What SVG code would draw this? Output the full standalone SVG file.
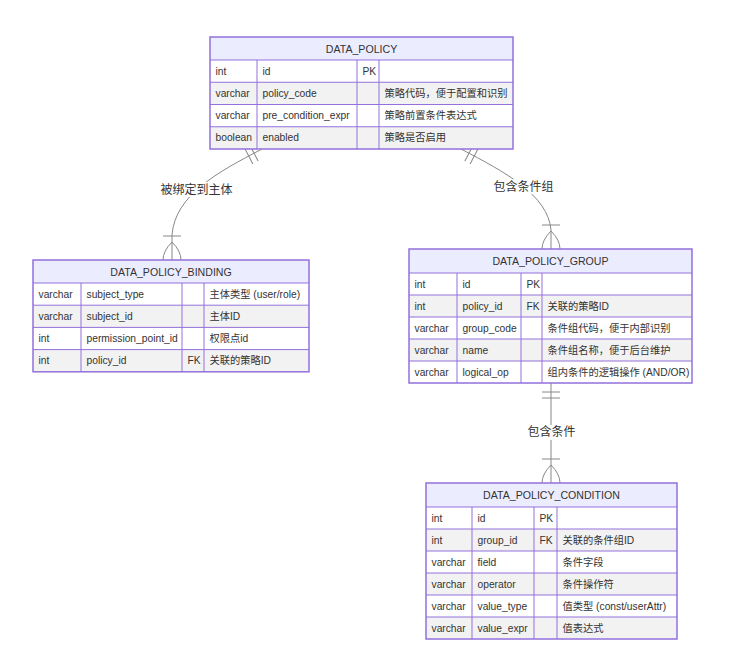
<svg xmlns="http://www.w3.org/2000/svg" width="737" height="648" viewBox="0 0 737 648">
<style>
text{font-family:"Liberation Sans","Noto Sans CJK SC",sans-serif;fill:#333;dominant-baseline:central}
.t{font-size:10.6px;text-anchor:middle}
.r{font-size:10.25px}
.lb{font-size:12px;text-anchor:middle}
.hd{fill:#ECECFF}
.od{fill:#ffffff}
.ev{fill:#f2f2f2}
.ln{stroke:#9370DB;stroke-width:1;fill:none}
.bx{stroke:#9370DB;stroke-width:1.5;fill:none}
.cn{stroke:#888;stroke-width:1;fill:none}
.lbg{fill:#ffffff;opacity:0.9}
</style>
<defs>
<marker id="oneStart" markerUnits="userSpaceOnUse" markerWidth="18" markerHeight="18" refX="0" refY="9" orient="auto"><path d="M9,0 L9,18 M15,0 L15,18" fill="none" stroke="#888"/></marker>
<marker id="manyEnd" markerUnits="userSpaceOnUse" markerWidth="45" markerHeight="36" refX="27" refY="18" orient="auto"><path d="M3,9 L3,27 M9,18 Q27,0 45,18 Q27,36 9,18" fill="none" stroke="#888"/></marker>
</defs>
<g id="connectors">
<path class="cn" d="M262,149 C218,172 175,195 172,235 L172,260" marker-start="url(#oneStart)" marker-end="url(#manyEnd)"/>
<path class="cn" d="M461,149 C505,172 548,195 551,230 L551,249" marker-start="url(#oneStart)" marker-end="url(#manyEnd)"/>
<path class="cn" d="M551,383 L551,483" marker-start="url(#oneStart)" marker-end="url(#manyEnd)"/>
<rect class="lbg" x="160" y="182" width="73" height="15"/>
<text class="lb" x="196.5" y="189.5">被绑定到主体</text>
<rect class="lbg" x="493" y="179" width="61" height="15"/>
<text class="lb" x="523.5" y="186.5">包含条件组</text>
<rect class="lbg" x="527" y="425" width="49" height="15"/>
<text class="lb" x="551.5" y="432">包含条件</text>
</g>
<g id="DATA_POLICY">
<rect class="hd" x="210" y="37" width="303" height="23"/>
<rect class="od" x="210" y="60" width="303" height="22.25"/>
<rect class="ev" x="210" y="82.25" width="303" height="22.25"/>
<rect class="od" x="210" y="104.5" width="303" height="22.25"/>
<rect class="ev" x="210" y="126.75" width="303" height="22.25"/>
<path class="ln" d="M210,60H513M210,82.25H513M210,104.5H513M210,126.75H513M257,60V149M357,60V149M379,60V149"/>
<rect class="bx" x="210" y="37" width="303" height="112"/>
<text class="t" x="361.5" y="48.5">DATA_POLICY</text>
<text class="r" x="215.5" y="71.1">int</text><text class="r" x="262.5" y="71.1">id</text><text class="r" x="362.5" y="71.1">PK</text>
<text class="r" x="215.5" y="93.4">varchar</text><text class="r" x="262.5" y="93.4">policy_code</text><text class="r" x="384.5" y="93.4">策略代码，便于配置和识别</text>
<text class="r" x="215.5" y="115.6">varchar</text><text class="r" x="262.5" y="115.6">pre_condition_expr</text><text class="r" x="384.5" y="115.6">策略前置条件表达式</text>
<text class="r" x="215.5" y="137.9">boolean</text><text class="r" x="262.5" y="137.9">enabled</text><text class="r" x="384.5" y="137.9">策略是否启用</text>
</g>
<g id="DATA_POLICY_BINDING">
<rect class="hd" x="33" y="260" width="276" height="23"/>
<rect class="od" x="33" y="283" width="276" height="22.2"/>
<rect class="ev" x="33" y="305.2" width="276" height="22.2"/>
<rect class="od" x="33" y="327.4" width="276" height="22.2"/>
<rect class="ev" x="33" y="349.6" width="276" height="22.2"/>
<path class="ln" d="M33,283H309M33,305.2H309M33,327.4H309M33,349.6H309M81,283V371.8M182,283V371.8M204,283V371.8"/>
<rect class="bx" x="33" y="260" width="276" height="111.8"/>
<text class="t" x="171" y="271.5">DATA_POLICY_BINDING</text>
<text class="r" x="38.5" y="294.1">varchar</text><text class="r" x="86.5" y="294.1">subject_type</text><text class="r" x="209.5" y="294.1">主体类型 (user/role)</text>
<text class="r" x="38.5" y="316.3">varchar</text><text class="r" x="86.5" y="316.3">subject_id</text><text class="r" x="209.5" y="316.3">主体ID</text>
<text class="r" x="38.5" y="338.5">int</text><text class="r" x="86.5" y="338.5">permission_point_id</text><text class="r" x="209.5" y="338.5">权限点id</text>
<text class="r" x="38.5" y="360.7">int</text><text class="r" x="86.5" y="360.7">policy_id</text><text class="r" x="187.5" y="360.7">FK</text><text class="r" x="209.5" y="360.7">关联的策略ID</text>
</g>
<g id="DATA_POLICY_GROUP">
<rect class="hd" x="409" y="249" width="283" height="24"/>
<rect class="od" x="409" y="273" width="283" height="22"/>
<rect class="ev" x="409" y="295" width="283" height="22"/>
<rect class="od" x="409" y="317" width="283" height="22"/>
<rect class="ev" x="409" y="339" width="283" height="22"/>
<rect class="od" x="409" y="361" width="283" height="22"/>
<path class="ln" d="M409,273H692M409,295H692M409,317H692M409,339H692M409,361H692M457,273V383M521,273V383M542,273V383"/>
<rect class="bx" x="409" y="249" width="283" height="134"/>
<text class="t" x="550.5" y="261">DATA_POLICY_GROUP</text>
<text class="r" x="414.5" y="284">int</text><text class="r" x="462.5" y="284">id</text><text class="r" x="526.5" y="284">PK</text>
<text class="r" x="414.5" y="306">int</text><text class="r" x="462.5" y="306">policy_id</text><text class="r" x="526.5" y="306">FK</text><text class="r" x="547.5" y="306">关联的策略ID</text>
<text class="r" x="414.5" y="328">varchar</text><text class="r" x="462.5" y="328">group_code</text><text class="r" x="547.5" y="328">条件组代码，便于内部识别</text>
<text class="r" x="414.5" y="350">varchar</text><text class="r" x="462.5" y="350">name</text><text class="r" x="547.5" y="350">条件组名称，便于后台维护</text>
<text class="r" x="414.5" y="372">varchar</text><text class="r" x="462.5" y="372">logical_op</text><text class="r" x="547.5" y="372">组内条件的逻辑操作 (AND/OR)</text>
</g>
<g id="DATA_POLICY_CONDITION">
<rect class="hd" x="426" y="483" width="251" height="24"/>
<rect class="od" x="426" y="507" width="251" height="22"/>
<rect class="ev" x="426" y="529" width="251" height="22"/>
<rect class="od" x="426" y="551" width="251" height="22"/>
<rect class="ev" x="426" y="573" width="251" height="22"/>
<rect class="od" x="426" y="595" width="251" height="22"/>
<rect class="ev" x="426" y="617" width="251" height="22"/>
<path class="ln" d="M426,507H677M426,529H677M426,551H677M426,573H677M426,595H677M426,617H677M472,507V639M534,507V639M557,507V639"/>
<rect class="bx" x="426" y="483" width="251" height="156"/>
<text class="t" x="551.5" y="495">DATA_POLICY_CONDITION</text>
<text class="r" x="431.5" y="518">int</text><text class="r" x="477.5" y="518">id</text><text class="r" x="539.5" y="518">PK</text>
<text class="r" x="431.5" y="540">int</text><text class="r" x="477.5" y="540">group_id</text><text class="r" x="539.5" y="540">FK</text><text class="r" x="562.5" y="540">关联的条件组ID</text>
<text class="r" x="431.5" y="562">varchar</text><text class="r" x="477.5" y="562">field</text><text class="r" x="562.5" y="562">条件字段</text>
<text class="r" x="431.5" y="584">varchar</text><text class="r" x="477.5" y="584">operator</text><text class="r" x="562.5" y="584">条件操作符</text>
<text class="r" x="431.5" y="606">varchar</text><text class="r" x="477.5" y="606">value_type</text><text class="r" x="562.5" y="606">值类型 (const/userAttr)</text>
<text class="r" x="431.5" y="628">varchar</text><text class="r" x="477.5" y="628">value_expr</text><text class="r" x="562.5" y="628">值表达式</text>
</g>
</svg>
